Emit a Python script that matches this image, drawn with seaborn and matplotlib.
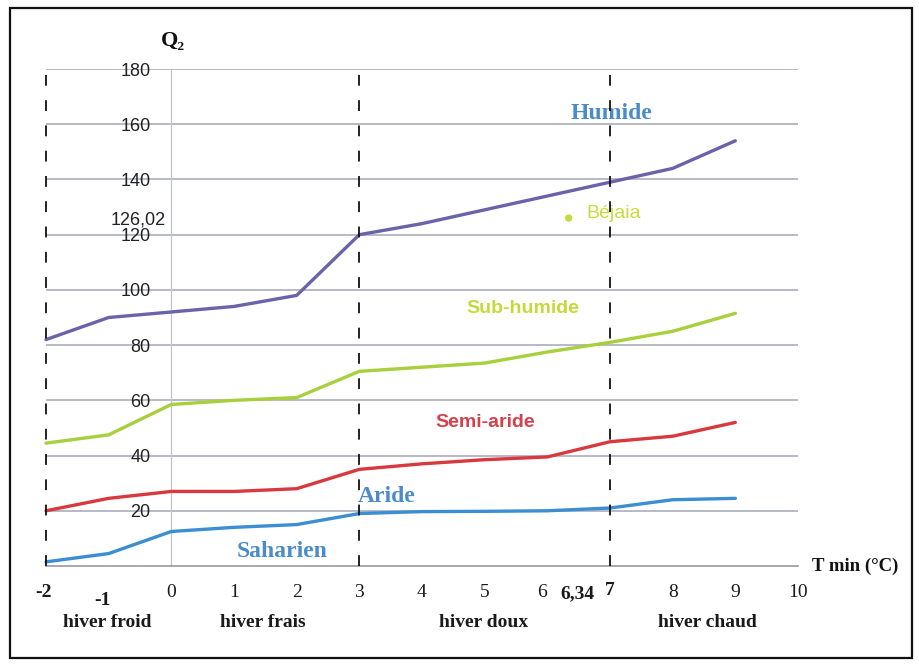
import pandas as pd
import matplotlib.pyplot as plt
import seaborn as sns
from matplotlib.patches import Rectangle
from matplotlib.transforms import ScaledTranslation

t_min = [-2, -1, 0, 1, 2, 3, 4, 5, 6, 7, 8, 9]
q2_humide = [82, 90, 92, 94, 98, 120, 124, 129, 134, 139, 144, 154]
q2_subhumide = [44.5, 47.5, 58.5, 60, 61, 70.5, 72, 73.5, 77.5, 81, 85, 91.5]
q2_semiaride = [20, 24.5, 27, 27, 28, 35, 37, 38.5, 39.5, 45, 47, 52]
q2_aride = [1.5, 4.5, 12.5, 14, 15, 19, 19.7, 19.8, 20, 21, 24, 24.5]

etages = ['Humide', 'Sub-humide', 'Semi-aride', 'Aride']
couleurs = {'Humide': '#6a63a9', 'Sub-humide': '#a8cf3c',
            'Semi-aride': '#d8393f', 'Aride': '#3b8ed1'}

x_ticks = [-2, -1, 0, 1, 2, 3, 4, 5, 6, 7, 8, 9, 10]
y_ticks = [20, 40, 60, 80, 100, 120, 140, 160, 180]
limites_hiver = [-2, 3, 7]
zones = ['hiver froid', 'hiver frais', 'hiver doux', 'hiver chaud']
zones_x = [-1.02, 1.46, 4.99, 8.55]

bejaia_t = 6.34
bejaia_q2 = 126.02

SERIF = ['Liberation Serif', 'DejaVu Serif']
SANS = ['Liberation Sans', 'DejaVu Sans']

sns.set_theme(style='white')
plt.rcParams['font.family'] = SERIF

rows = []
for nom, vals in zip(etages, [q2_humide, q2_subhumide, q2_semiaride, q2_aride]):
    for t, q in zip(t_min, vals):
        rows.append({'t': t, 'q2': q, 'etage': nom})
df = pd.DataFrame(rows)

fig = plt.figure(figsize=(9.19, 6.64), dpi=100)
ax = fig.add_axes([46 / 919, 98 / 664, 752 / 919, 497 / 664])

sns.lineplot(data=df, x='t', y='q2', hue='etage', palette=couleurs,
             linewidth=2.4, legend=False, ax=ax, zorder=4)
for line in ax.lines:
    line.set_clip_on(False)
    line.set_solid_capstyle('round')

sns.scatterplot(x=[bejaia_t], y=[bejaia_q2], color='#c6da3e', s=28,
                edgecolor='none', ax=ax, zorder=5)

# limites des variantes thermiques
for xl in limites_hiver:
    ax.axvline(xl, ymin=0, ymax=1.01, color='#111111', lw=1.3,
               dashes=(6, 8), clip_on=False, zorder=6)

ax.set_xlim(-2, 10)
ax.set_ylim(0, 180)
ax.set_xlabel('')
ax.set_ylabel('')

# axes
ax.spines['top'].set_visible(False)
ax.spines['right'].set_visible(False)
ax.spines['left'].set_position(('data', 0))
ax.spines['left'].set_color('#c0c3cc')
ax.spines['left'].set_linewidth(0.9)
ax.spines['bottom'].set_color('#8d909c')
ax.spines['bottom'].set_linewidth(1.1)

ax.yaxis.grid(True, color='#a3a7b6', lw=1.1)
ax.xaxis.grid(False)

ax.set_yticks(y_ticks, labels=[str(v) for v in y_ticks])
ax.set_yticks([bejaia_q2], labels=['126,02'], minor=True)
for lab in ax.get_yticklabels() + ax.get_yticklabels(minor=True):
    lab.set_fontfamily(SANS)
    lab.set_fontsize(13)
    lab.set_color('#222222')
ax.tick_params(axis='y', which='major', length=0, pad=15)
ax.tick_params(axis='y', which='minor', length=2, pad=2, color='#555555')

ax.set_xticks(x_ticks, labels=[str(v) for v in x_ticks])
ax.set_xticks([bejaia_t], labels=['6,34'], minor=True)
ax.tick_params(axis='x', which='both', length=4, direction='out', pad=9,
               color='#555555', labelsize=14, labelcolor='#1a1a1a')
for lab in ax.get_xticklabels() + ax.get_xticklabels(minor=True):
    txt = lab.get_text()
    if txt in ('-2', '-1', '7', '6,34'):
        lab.set_fontweight('bold')
    dx, dy = 0, 0
    if txt == '-1':
        dx, dy = -6, -8
    elif txt == '-2':
        dx = -3
    elif txt == '6':
        dx = -5
    elif txt == '6,34':
        dx, dy = 9, -1
    elif txt == '7':
        dy = 2
    if dx or dy:
        lab.set_transform(lab.get_transform()
                          + ScaledTranslation(dx / 100, dy / 100, fig.dpi_scale_trans))

# textes
ax.text(0.02, 190, 'Q₂', ha='center', va='center', fontsize=16,
        fontweight='bold', color='#111111', clip_on=False)
ax.text(10.22, 0, 'T min (°C)', ha='left', va='center', fontsize=13.5,
        fontweight='bold', color='#111111', clip_on=False)
for nom, xz in zip(zones, zones_x):
    ax.text(xz, -20.5, nom, ha='center', va='center', fontsize=14,
            fontweight='bold', color='#1a1a1a', clip_on=False)

ax.text(7.03, 164, 'Humide', ha='center', va='center', fontsize=17,
        fontweight='bold', color='#4a8bc9')
ax.text(3.44, 25, 'Aride', ha='center', va='center', fontsize=17,
        fontweight='bold', color='#4a8bc9')
ax.text(1.77, 5.4, 'Saharien', ha='center', va='center', fontsize=17,
        fontweight='bold', color='#4a8bc9')
ax.text(5.61, 93.4, 'Sub-humide', ha='center', va='center', fontsize=14,
        fontweight='bold', color='#c5d93a', family=SANS)
ax.text(5.01, 51.8, 'Semi-aride', ha='center', va='center', fontsize=14,
        fontweight='bold', color='#d6404a', family=SANS)
ax.text(6.62, bejaia_q2 + 1.5, 'Béjaia', ha='left', va='center', fontsize=14,
        color='#c8dc3c', family=SANS)

# cadre
fig.patches.append(Rectangle((10 / 919, 6 / 664), 902 / 919, 650 / 664,
                             transform=fig.transFigure, fill=False,
                             ec='#111111', lw=1.6))

fig.savefig('out.png', dpi=100)
